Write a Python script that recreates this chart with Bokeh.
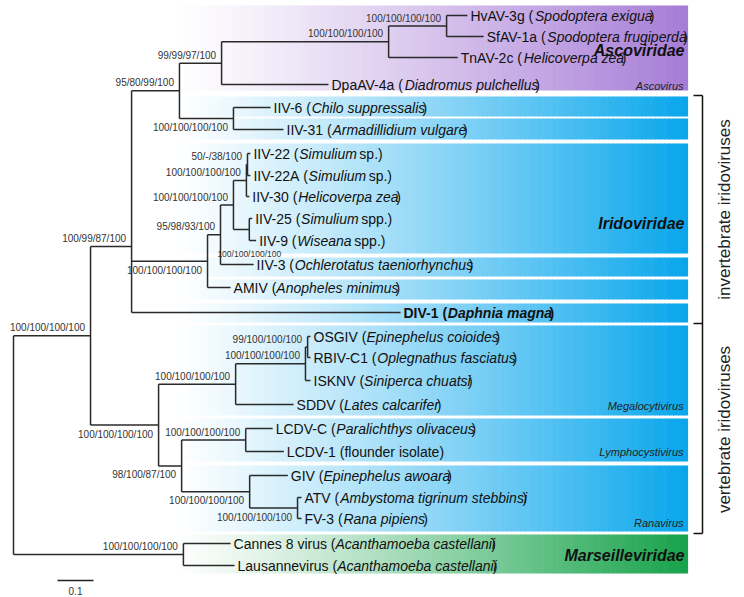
import math
from bokeh.plotting import figure
from bokeh.models import Range1d
from bokeh.core.properties import value
from bokeh.embed import file_html
from bokeh.resources import INLINE

# ---------------- data: tree topology, branch lengths, supports ----------------
node_ids = ["root", "n_irido", "n_inv", "n_ai", "n_asco", "n_ascosub", "n_hvsf", "HvAV", "SfAV", "TnAV",
            "DpaAV", "n_iiv6", "IIV6", "IIV31", "n_207", "n_220", "n_233", "n_246", "n_247", "IIV22",
            "IIV22A", "IIV30", "n_249", "IIV25", "IIV9", "IIV3", "AMIV", "DIV1", "n_vert", "n_megalo",
            "n_B", "n_A", "OSGIV", "RBIV", "ISKNV", "SDDV", "n_LR", "n_lympho", "LCDVC", "LCDV1",
            "n_rana", "GIV", "n_atfv", "ATV", "FV3", "n_mars", "Cannes", "Lausanne"]
parents = [None, "root", "n_irido", "n_inv", "n_ai", "n_asco", "n_ascosub", "n_hvsf", "n_hvsf", "n_ascosub",
           "n_asco", "n_ai", "n_iiv6", "n_iiv6", "n_inv", "n_207", "n_220", "n_233", "n_246", "n_247",
           "n_247", "n_246", "n_233", "n_249", "n_249", "n_220", "n_207", "n_inv", "n_irido", "n_vert",
           "n_megalo", "n_B", "n_A", "n_A", "n_B", "n_megalo", "n_vert", "n_LR", "n_lympho", "n_lympho",
           "n_LR", "n_rana", "n_rana", "n_atfv", "n_atfv", "root", "n_mars", "n_mars"]
branch_lengths = [0.0, 0.214, 0.114, 0.133, 0.117, 0.464, 0.161, 0.058, 0.103, 0.192,
                  0.297, 0.150, 0.103, 0.139, 0.211, 0.036, 0.036, 0.036, 0.003, 0.008,
                  0.008, 0.008, 0.044, 0.008, 0.019, 0.092, 0.064, 0.747, 0.189, 0.214,
                  0.194, 0.006, 0.008, 0.008, 0.014, 0.161, 0.064, 0.178, 0.075, 0.106,
                  0.189, 0.106, 0.133, 0.011, 0.011, 0.472, 0.131, 0.142]

leaf_order = ["HvAV", "SfAV", "TnAV", "DpaAV", "IIV6", "IIV31", "IIV22", "IIV22A", "IIV30", "IIV25",
              "IIV9", "IIV3", "AMIV", "DIV1", "OSGIV", "RBIV", "ISKNV", "SDDV", "LCDVC", "LCDV1",
              "GIV", "ATV", "FV3", "Cannes", "Lausanne"]
leaf_labels = ["HvAV-3g (*Spodoptera exigua*)", "SfAV-1a (*Spodoptera frugiperda*)",
               "TnAV-2c (*Helicoverpa zea*)", "DpaAV-4a (*Diadromus pulchellus*)",
               "IIV-6 (*Chilo suppressalis*)", "IIV-31 (*Armadillidium vulgare*)",
               "IIV-22 (*Simulium* sp.)", "IIV-22A (*Simulium* sp.)", "IIV-30 (*Helicoverpa zea*)",
               "IIV-25 (*Simulium* spp.)", "IIV-9 (*Wiseana* spp.)",
               "IIV-3 (*Ochlerotatus taeniorhynchus*)", "AMIV (*Anopheles minimus*)",
               "DIV-1 (*Daphnia magna*)", "OSGIV (*Epinephelus coioides*)",
               "RBIV-C1 (*Oplegnathus fasciatus*)", "ISKNV (*Siniperca chuatsi*)",
               "SDDV (*Lates calcarifer*)", "LCDV-C (*Paralichthys olivaceus*)",
               "LCDV-1 (flounder isolate)", "GIV (*Epinephelus awoara*)",
               "ATV (*Ambystoma tigrinum stebbinsi*)", "FV-3 (*Rana pipiens*)",
               "Cannes 8 virus (*Acanthamoeba castellanii*)", "Lausannevirus (*Acanthamoeba castellanii*)"]
bold_leaves = ["DIV1"]

support_nodes = ["n_irido", "n_inv", "n_ai", "n_asco", "n_ascosub", "n_hvsf", "n_iiv6", "n_207",
                 "n_220", "n_233", "n_246", "n_247", "n_249", "n_vert", "n_megalo", "n_B", "n_A",
                 "n_LR", "n_lympho", "n_rana", "n_atfv", "n_mars"]
support_values = ["100/100/100/100", "100/99/87/100", "95/80/99/100", "99/99/97/100", "100/100/100/100",
                  "100/100/100/100", "100/100/100/100", "100/100/100/100", "95/98/93/100",
                  "100/100/100/100", "100/100/100/100", "50/-/38/100", "100/100/100/100",
                  "100/100/100/100", "100/100/100/100", "100/100/100/100", "99/100/100/100",
                  "98/100/87/100", "100/100/100/100", "100/100/100/100", "100/100/100/100",
                  "100/100/100/100"]
support_side = ["above", "above", "above", "above", "above", "above", "below", "below", "above",
                "above", "above", "above", "under_leaf", "below", "above", "above", "above",
                "below", "above", "below", "below", "above"]

scale_bar_value = 0.1
scale_bar_text = "0.1"

# ---------------- layout (page pixels) ----------------
PX_PER_UNIT = 360.0
ROOT_PX = 13.0
def px2u(px):
    return (px - ROOT_PX) / PX_PER_UNIT

leaf_rows = [15, 36, 57, 84, 107, 129, 153, 175, 196, 218, 240, 264, 287, 312, 336, 357, 380, 404,
             428, 451, 475, 497, 518, 543, 565]
y_nudge = {"n_inv": 25}

FONT = "Liberation Sans"
LINE_COL = "#2a2a2a"
NBSP = "\u00a0"

# Arial / Liberation Sans advance widths (per 1000 em)
_U = "ABCDEFGHIJKLMNOPQRSTUVWXYZ"
_L = "abcdefghijklmnopqrstuvwxyz"
W_REG = dict(zip(_U, [667, 667, 722, 722, 667, 611, 778, 722, 278, 500, 667, 556, 833, 722, 778, 667, 778,
                      722, 667, 611, 722, 667, 944, 667, 667, 611]))
W_REG.update(dict(zip(_L, [556, 556, 500, 556, 556, 278, 556, 556, 222, 222, 500, 222, 833, 556, 556, 556,
                           556, 333, 500, 278, 556, 500, 722, 500, 500, 500])))
W_BOLD = dict(zip(_U, [722, 722, 722, 722, 667, 611, 778, 722, 278, 556, 722, 611, 833, 722, 778, 667, 778,
                       722, 667, 611, 722, 667, 944, 667, 667, 611]))
W_BOLD.update(dict(zip(_L, [556, 611, 556, 611, 556, 333, 611, 611, 278, 278, 556, 278, 889, 611, 611, 611,
                            611, 389, 556, 333, 611, 556, 778, 556, 556, 500])))
for d in (W_REG, W_BOLD):
    d.update({" ": 278, NBSP: 278, "(": 333, ")": 333, "-": 333, ".": 278, "/": 278})
    d.update({c: 556 for c in "0123456789"})

def text_w(s, size, bold=False, italic=False):
    t = W_BOLD if bold else W_REG
    w = sum(t.get(c, 556) for c in s) * size / 1000.0
    return w * (0.976 if italic else 1.0)

# ---------------- compute tree geometry ----------------
parent_of = dict(zip(node_ids, parents))
blen = dict(zip(node_ids, branch_lengths))
children = {n: [] for n in node_ids}
for n, pa in zip(node_ids, parents):
    if pa is not None:
        children[pa].append(n)
xs = {}
for n in node_ids:
    pa = parent_of[n]
    xs[n] = 0.0 if pa is None else xs[pa] + blen[n]
ys = dict(zip(leaf_order, leaf_rows))
for n in reversed(node_ids):
    if children[n]:
        ys[n] = sum(ys[c] for c in children[n]) / len(children[n]) + y_nudge.get(n, 0)

W, H = 744, 596
p = figure(width=W, height=H, output_backend="svg", toolbar_location=None,
           x_range=Range1d(px2u(0), px2u(W)), y_range=Range1d(H, 0),
           x_axis_location=None, y_axis_location=None, min_border=0)
p.grid.visible = False
p.outline_line_color = None
p.background_fill_color = "white"

# ---------------- coloured bands (gradient strips) ----------------
def band_strips(y0, y1, rgb, x0=175, x1=687, n=110, gamma=1.15):
    L, R, T, B, C = [], [], [], [], []
    step = (x1 - x0) / n
    for i in range(n):
        t = ((i + 0.5) / n) ** gamma
        r = round(255 + (rgb[0] - 255) * t)
        g = round(255 + (rgb[1] - 255) * t)
        b = round(255 + (rgb[2] - 255) * t)
        L.append(px2u(x0 + i * step))
        R.append(px2u(x0 + (i + 1) * step + 0.6))
        T.append(y0)
        B.append(y1)
        C.append("#%02x%02x%02x" % (r, g, b))
    return L, R, T, B, C

PURPLE = (166, 124, 214)
BLUE = (8, 166, 236)
GREEN = (22, 162, 74)
bands = [(5, 90, PURPLE), (96, 116, BLUE), (118, 139, BLUE), (143, 253, BLUE), (257, 276, BLUE),
         (279, 299, BLUE), (303, 322, BLUE), (325, 415, BLUE), (418, 461, BLUE), (465, 531, BLUE),
         (534, 573, GREEN)]
bl, br, bt, bb, bc = [], [], [], [], []
for y0, y1, col in bands:
    L, R, T, B, C = band_strips(y0, y1, col)
    bl += L; br += R; bt += T; bb += B; bc += C
p.quad(left=bl, right=br, top=bt, bottom=bb, fill_color=bc, line_color=None)

# ---------------- tree lines ----------------
sx0, sx1, sy0, sy1 = [], [], [], []
for n in node_ids:
    pa = parent_of[n]
    if pa is not None:
        sx0.append(xs[pa]); sx1.append(xs[n]); sy0.append(ys[n]); sy1.append(ys[n])
    if children[n]:
        cy = [ys[c] for c in children[n]]
        sx0.append(xs[n]); sx1.append(xs[n]); sy0.append(min(cy)); sy1.append(max(cy))
p.segment(x0=sx0, y0=sy0, x1=sx1, y1=sy1, line_color=LINE_COL, line_width=1.5)

# ---------------- leaf labels ----------------
LEAF_SIZE = 14
groups = {}
for leaf, lab in zip(leaf_order, leaf_labels):
    bold = leaf in bold_leaves
    xpx = ROOT_PX + xs[leaf] * PX_PER_UNIT + 3
    for k, seg in enumerate(lab.split("*")):
        if not seg:
            continue
        seg = seg.replace(" ", NBSP)
        italic = (k % 2 == 1)
        style = ("bold " if bold else "") + ("italic" if italic else "")
        style = style.strip() or "normal"
        g = groups.setdefault(style, ([], [], []))
        g[0].append(px2u(xpx)); g[1].append(ys[leaf]); g[2].append(seg)
        xpx += text_w(seg, LEAF_SIZE, bold, italic)
for style, (gx, gy, gt) in groups.items():
    p.text(x=gx, y=gy, text=gt, text_font=value(FONT), text_font_size="%dpx" % LEAF_SIZE,
           text_font_style=style, text_baseline="middle", text_align="left", text_color="#111111")

# ---------------- support labels ----------------
tx, ty, tt = [], [], []
ux, uy, ut = [], [], []
for n, v, side in zip(support_nodes, support_values, support_side):
    if side == "under_leaf":
        last = children[n][-1]
        ux.append(xs[n]); uy.append(ys[last] + 13); ut.append(v)
        continue
    tx.append(xs[n] - 5.5 / PX_PER_UNIT)
    ty.append(ys[n] - 8 if side == "above" else ys[n] + 9)
    tt.append(v)
p.text(x=tx, y=ty, text=tt, text_font=value(FONT), text_font_size="10px", text_align="right",
       text_baseline="middle", text_color="#333333")
p.text(x=ux, y=uy, text=ut, text_font=value(FONT), text_font_size="8.5px", text_align="center",
       text_baseline="middle", text_color="#333333")

# ---------------- group annotations ----------------
p.text(x=[px2u(684)] * 3, y=[50, 223, 555], text=["Ascoviridae", "Iridoviridae", "Marseilleviridae"],
       text_font=value(FONT), text_font_size="16px", text_font_style="bold italic",
       text_align="right", text_baseline="middle", text_color="#111111")
p.text(x=[px2u(683)] * 4, y=[85, 405, 451, 522],
       text=["Ascovirus", "Megalocytivirus", "Lymphocystivirus", "Ranavirus"],
       text_font=value(FONT), text_font_size="11px", text_font_style="italic",
       text_align="right", text_baseline="middle", text_color="#222222")

# bracket
bx = px2u(702); bxl = px2u(693)
p.segment(x0=[bxl, bx, bxl, bxl], y0=[95, 95, 533, 323], x1=[bx, bx, bx, bx], y1=[95, 533, 533, 323],
          line_color="#111111", line_width=1.5)
p.text(x=[px2u(724)] * 2, y=[209, 429], text=["invertebrate iridoviruses", "vertebrate iridoviruses"],
       angle=math.pi / 2, text_font=value(FONT), text_font_size="17px", text_align="center",
       text_baseline="middle", text_color="#222222")

# scale bar
sb0 = px2u(57)
p.segment(x0=[sb0], y0=[580], x1=[sb0 + scale_bar_value], y1=[580], line_color="#222222", line_width=1.5)
p.text(x=[sb0 + scale_bar_value / 2], y=[590], text=[scale_bar_text], text_font=value(FONT),
       text_font_size="10px", text_align="center", text_baseline="middle", text_color="#333333")

open("out.html", "w").write(file_html(p, INLINE))
